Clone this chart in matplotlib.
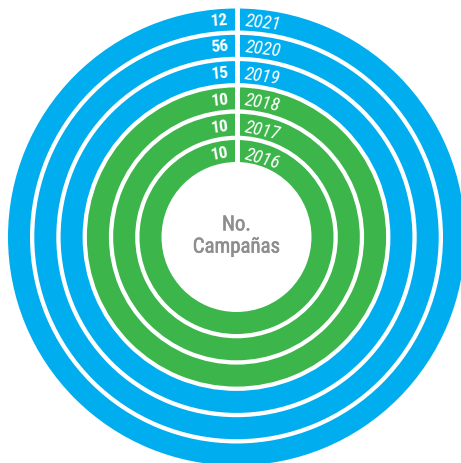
import numpy as np
import matplotlib
matplotlib.use("Agg")
import matplotlib.pyplot as plt
from matplotlib import font_manager
import matplotlib.patheffects as pe
from matplotlib.patches import Wedge, Rectangle

# -----------------------------
# Datos
# -----------------------------
years = ["2016", "2017", "2018", "2019", "2020", "2021"]
campaigns = [10, 10, 10, 15, 56, 12]
ring_colors = ["#3CB54A", "#3CB54A", "#3CB54A", "#00AEEF", "#00AEEF", "#00AEEF"]
center_label = "No.\nCampañas"


def pick_font(names):
    installed = {f.name for f in font_manager.fontManager.ttflist}
    for n in names:
        if n in installed:
            return n
    return "DejaVu Sans"


font = pick_font(["Liberation Sans Narrow", "Roboto Condensed", "DejaVu Sans"])

# -----------------------------
# Geometría (en píxeles)
# -----------------------------
W, H = 461, 463
cx, cy = 236.5, 237
r_first = 97.0
step = 26.3
width = 22.0
gap_x0, gap_x1 = 234.8, 239.6

fig = plt.figure(figsize=(W / 100, H / 100), dpi=100)
ax = fig.add_axes([0, 0, 1, 1])
ax.set_xlim(0, W)
ax.set_ylim(H, 0)
ax.axis("off")

for i, (year, val, col) in enumerate(zip(years, campaigns, ring_colors)):
    r_out = r_first + step * i
    ax.add_patch(Wedge((cx, cy), r_out, 0, 360, width=width, facecolor=col, edgecolor="none"))

    r_mid = r_out - width / 2
    # etiqueta del año (derecha del corte)
    dx = 24
    ang = np.degrees(np.arcsin(dx / r_mid))
    ty = cy - np.sqrt(r_mid ** 2 - dx ** 2)
    ax.text(cx + 8.5, ty, year, ha="left", va="center", color="white",
            fontsize=13.5, fontstyle="italic", family=font,
            rotation=-ang, rotation_mode="anchor")
    # valor (izquierda del corte)
    dx = 15
    ang = np.degrees(np.arcsin(dx / r_mid))
    ty = cy - np.sqrt(r_mid ** 2 - dx ** 2)
    ax.text(cx - 8, ty, str(val), ha="right", va="center", color="white",
            fontsize=12.5, fontweight="bold", family=font,
            rotation=ang, rotation_mode="anchor")

# corte blanco vertical
r_hole = r_first - width
ax.add_patch(Rectangle((gap_x0, 0), gap_x1 - gap_x0, cy - r_hole + 1,
                       facecolor="white", edgecolor="none"))

ax.text(cx, cy - 1, center_label, ha="center", va="center", color="#8E8E8E",
        fontsize=15, family=font, linespacing=1.2,
        path_effects=[pe.withStroke(linewidth=0.4, foreground="#8E8E8E")])

fig.savefig("out.png", dpi=100)
